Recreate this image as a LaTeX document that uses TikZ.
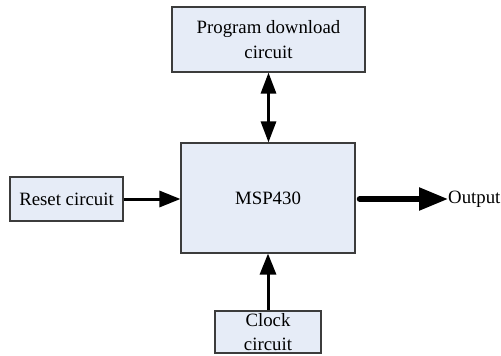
\documentclass[tikz,border=0pt]{standalone}
\usepackage{fontspec}
\setmainfont{Liberation Serif}
\usetikzlibrary{arrows.meta}
\definecolor{boxfill}{RGB}{230,236,247}
\definecolor{boxline}{RGB}{60,60,60}
\begin{document}
\begin{tikzpicture}[x=1pt,y=-1pt,
  blk/.style={draw=boxline, fill=boxfill, line width=1.1pt, inner sep=0pt, align=center,
              font=\fontsize{18.8}{24.5}\selectfont},
  arr/.style={line width=3pt, -{Triangle[length=21pt,width=16pt]}},
  darr/.style={line width=3pt, {Triangle[length=21pt,width=15pt]}-{Triangle[length=21pt,width=15pt]}},
  bigarr/.style={line width=5.5pt, line cap=round, -{Triangle[length=29pt,width=22pt]}}]
\useasboundingbox (0,0) rectangle (501,356);
\fill[white] (0,0) rectangle (501,356);
\node[blk, minimum width=193pt, minimum height=65pt] (prog) at (268.5,39.5) {Program download\\circuit};
\node[blk, minimum width=174pt, minimum height=110pt] (msp) at (268,198) {MSP430};
\node[blk, minimum width=113pt, minimum height=44pt] (reset) at (66.5,199) {Reset circuit};
\node[blk, minimum width=106pt, minimum height=42pt] (clock) at (268,332) {Clock\\circuit};
\node[anchor=west, inner sep=0pt, font=\fontsize{18.8}{24.5}\selectfont] (out) at (448,199) {Output};
\draw[darr] (prog.south) -- (prog.south |- msp.north);
\draw[arr] (reset.east) -- (reset.east -| msp.west);
\draw[arr] (clock.north) -- (clock.north |- msp.south);
\draw[bigarr, shorten <=4pt] (msp.east |- out.west) -- (out.west);
\end{tikzpicture}
\end{document}
